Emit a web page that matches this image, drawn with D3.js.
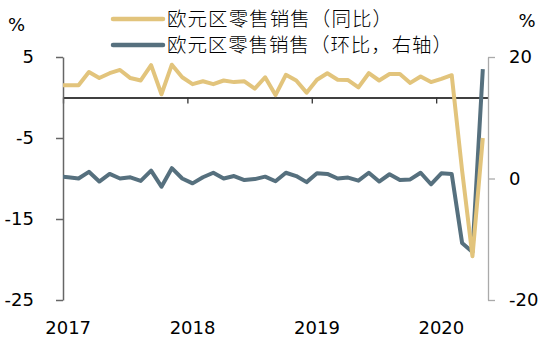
<!DOCTYPE html>
<html>
  <head>
    <meta charset="utf-8">
    <title>欧元区零售销售</title>
    <style>
      body { margin: 0; background: #fff; }
    </style>
  </head>
  <body>
    <script src="https://d3js.org/d3.v7.min.js"></script>
    <svg id="chart" width="552" height="351"></svg>
    <script>
      const width = 552, height = 351
      const margin = { top: 57, right: 64, bottom: 51, left: 63 }

      // months, Dec 2016 is only partly visible (clipped at the left axis)
      const months = [
        '2016-12',
        '2017-01','2017-02','2017-03','2017-04','2017-05','2017-06','2017-07','2017-08','2017-09','2017-10','2017-11','2017-12',
        '2018-01','2018-02','2018-03','2018-04','2018-05','2018-06','2018-07','2018-08','2018-09','2018-10','2018-11','2018-12',
        '2019-01','2019-02','2019-03','2019-04','2019-05','2019-06','2019-07','2019-08','2019-09','2019-10','2019-11','2019-12',
        '2020-01','2020-02','2020-03','2020-04','2020-05'
      ]
      // year on year, left axis
      const yoy = [
        1.5,
        1.5, 1.5, 3.15, 2.4, 3.0, 3.4, 2.4, 2.1, 4.0, 0.4, 4.05, 2.5,
        1.65, 2.0, 1.65, 2.1, 1.9, 2.0, 1.1, 2.5, 0.3, 2.8, 2.1, 0.6,
        2.2, 3.0, 2.2, 2.15, 1.25, 3.0, 2.1, 2.9, 2.9, 1.8, 2.6, 1.9,
        2.3, 2.75, -9.0, -19.6, -5.0
      ]
      // month on month, right axis
      const mom = [
        0.35,
        0.2, 0.0, 1.1, -0.5, 0.75, 0.0, 0.2, -0.4, 1.3, -1.35, 1.7, 0.0,
        -0.8, 0.2, 0.95, 0.0, 0.4, -0.25, -0.1, 0.3, -0.45, 0.95, 0.4, -0.6,
        0.85, 0.75, 0.0, 0.15, -0.35, 0.95, -0.5, 0.7, -0.25, -0.15, 0.95, -0.95,
        0.85, 0.75, -10.6, -12.1, 18.0
      ]
      const leftTicks = [5, -5, -15, -25]
      const rightTicks = [20, 0, -20]
      const years = ['2017', '2018', '2019', '2020']
      const seriesNames = ['欧元区零售销售（同比）', '欧元区零售销售（环比，右轴）']
      const colors = ['#E2C47C', '#56707E']

      const numFont = '"DejaVu Sans", sans-serif'
      const cjkFont = '"Noto Sans CJK SC", sans-serif'
      const cjkPitch = 20   // every legend glyph is full width

      const svg = d3.select('#chart')

      // index -1 = Dec 2016, first visible month sits in the middle of its slot
      const x = d3.scaleLinear()
        .domain([-0.5, months.length - 1.5])
        .range([margin.left, width - margin.right])
      const idx = m => months.indexOf(m) - 1

      const yL = d3.scaleLinear().domain([-25, 5]).range([height - margin.bottom, margin.top])
      const yR = d3.scaleLinear().domain([-20, 20]).range([height - margin.bottom, margin.top])

      svg.append('clipPath').attr('id', 'plot-clip')
        .append('rect')
          .attr('x', margin.left).attr('y', 0)
          .attr('width', width - margin.left - margin.right).attr('height', height)

      // zero line with year ticks
      const xAxis = d3.axisBottom(x)
        .tickValues(years.map(y => idx(y + '-01') - 0.5))
        .tickSize(6).tickSizeOuter(0)
        .tickFormat('')
      svg.append('g')
          .attr('transform', `translate(0,${yL(0)})`)
        .call(xAxis)
        .call(g => g.select('.domain').attr('stroke', '#000').attr('stroke-width', 1.5))
        .call(g => g.selectAll('.tick line').attr('stroke', '#333').attr('stroke-width', 1.3))

      svg.append('g').selectAll('text')
        .data(years)
        .join('text')
          .attr('x', d => x(idx(d + '-01')))
          .attr('y', 328)
          .attr('dy', '0.35em')
          .attr('text-anchor', 'middle')
          .style('font-family', numFont)
          .style('font-size', '18px')
          .attr('fill', '#000')
          .text(d => d)

      const yAxisL = d3.axisLeft(yL)
        .tickValues(leftTicks)
        .tickSize(7).tickSizeOuter(0)
        .tickPadding(22)
        .tickFormat(d => String(d))
      svg.append('g')
          .attr('transform', `translate(${margin.left},0)`)
        .call(yAxisL)
        .call(g => g.select('.domain').attr('stroke', '#666').attr('stroke-width', 1.5))
        .call(g => g.selectAll('.tick line').attr('stroke', '#666').attr('stroke-width', 1.5))
        .call(g => g.selectAll('text')
          .style('font-family', numFont).style('font-size', '18px').attr('fill', '#000'))

      const yAxisR = d3.axisRight(yR)
        .tickValues(rightTicks)
        .tickSize(7).tickSizeOuter(0)
        .tickPadding(14)
        .tickFormat(d => String(d))
      svg.append('g')
          .attr('transform', `translate(${width - margin.right},0)`)
        .call(yAxisR)
        .call(g => g.select('.domain').attr('stroke', '#aaa').attr('stroke-width', 1.3))
        .call(g => g.selectAll('.tick line').attr('stroke', '#aaa').attr('stroke-width', 1.3))
        .call(g => g.selectAll('text')
          .style('font-family', numFont).style('font-size', '18px').attr('fill', '#000'))

      svg.append('text')
          .attr('x', 16.5).attr('y', 25).attr('dy', '0.35em')
          .attr('text-anchor', 'middle')
          .style('font-family', numFont).style('font-size', '18px')
          .text('%')
      svg.append('text')
          .attr('x', 527).attr('y', 21).attr('dy', '0.35em')
          .attr('text-anchor', 'middle')
          .style('font-family', numFont).style('font-size', '18px')
          .text('%')

      const lineL = d3.line().x((d, i) => x(i - 1)).y(d => yL(d))
      const lineR = d3.line().x((d, i) => x(i - 1)).y(d => yR(d))

      const plot = svg.append('g').attr('clip-path', 'url(#plot-clip)')
      plot.append('path')
          .attr('d', lineR(mom))
          .attr('fill', 'none')
          .attr('stroke', colors[1])
          .attr('stroke-width', 4)
          .attr('stroke-linejoin', 'round')
      plot.append('path')
          .attr('d', lineL(yoy))
          .attr('fill', 'none')
          .attr('stroke', colors[0])
          .attr('stroke-width', 4)
          .attr('stroke-linejoin', 'round')

      // legend
      const legend = svg.append('g').selectAll('g')
        .data(seriesNames)
        .join('g')
          .attr('transform', (d, i) => `translate(113,${19 + i * 26})`)
      legend.append('line')
          .attr('x1', 0).attr('x2', 50)
          .attr('stroke', (d, i) => colors[i])
          .attr('stroke-width', 4.5)
          .attr('stroke-linecap', 'round')
      legend.append('text')
          .attr('x', 54)
          .attr('dy', '0.36em')
          .attr('textLength', d => d.length * cjkPitch + 5)
          .attr('lengthAdjust', 'spacing')
          .style('font-family', cjkFont)
          .style('font-size', '19.5px')
          .style('font-weight', 300)
          .attr('fill', '#000')
          .text(d => d)
    </script>
  </body>
</html>
